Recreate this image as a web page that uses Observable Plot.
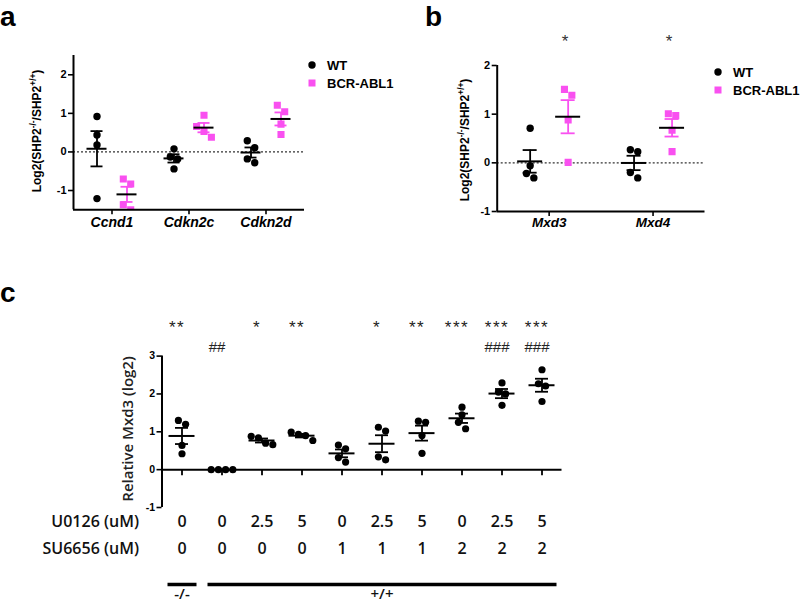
<!DOCTYPE html>
<html>
<head>
<meta charset="utf-8">
<script src="https://cdn.jsdelivr.net/npm/d3@7"></script>
<script src="https://cdn.jsdelivr.net/npm/@observablehq/plot@0.6"></script>
<style>
  html, body { margin: 0; padding: 0; background: #fff; }
  #root { position: relative; width: 800px; height: 605px; overflow: hidden; background: #fff; font-family: 'Liberation Sans', Arial, sans-serif; }
  .plabel { position: absolute; font-weight: bold; font-size: 28px; line-height: 28px; color: #000; }
  .ylab { position: absolute; transform: translate(-50%, -50%) rotate(-90deg); white-space: nowrap; font-weight: bold; font-size: 12px; color: #000; line-height: 14px; }
  .ylab sup { font-size: 0.7em; line-height: 0; }
  .ylabc { position: absolute; transform: translate(-50%, -50%) rotate(-90deg); white-space: nowrap; font-family: 'Open Sans', sans-serif; font-weight: 600; font-size: 15px; color: #222; line-height: 18px; }
</style>
</head>
<body>
<div id="root"></div>
<script>
// ---------------- data ----------------
const PINK = "#f950f0";
const FONT = "'Liberation Sans', Arial, Helvetica, sans-serif";
const FONT_C = "'Open Sans', 'Noto Sans', sans-serif";

const legendLabels = ["WT", "BCR-ABL1"];

// panel a
const genesA = ["Ccnd1", "Cdkn2c", "Cdkn2d"];
const wtA  = [[0.92, 0.44, 0.18, -1.21], [0.08, -0.13, -0.18, -0.44], [0.29, 0.11, -0.18, -0.28]];
const bcrA = [[-0.70, -0.83, -1.37, -1.50], [0.95, 0.66, 0.53, 0.38], [1.21, 1.04, 0.72, 0.45]];
const ticksA = [-1, 0, 1, 2];
const domainA = [-1.5, 2.5];

// panel b
const genesB = ["Mxd3", "Mxd4"];
const wtB  = [[0.71, -0.06, -0.22, -0.31], [0.27, 0.23, -0.20, -0.31]];
const bcrB = [[1.51, 1.39, 0.88, 0.01], [1.01, 0.97, 0.67, 0.23]];
const sigB = ["*", "*"];
const ticksB = [-1, 0, 1, 2];
const domainB = [-1, 2];

// panel c
const mxd3 = [
  [1.30, 1.20, 0.64, 0.42],
  [0.00, 0.00, 0.00, 0.00],
  [0.88, 0.84, 0.70, 0.66],
  [0.99, 0.93, 0.90, 0.77],
  [0.65, 0.55, 0.32, 0.20],
  [1.12, 1.02, 0.34, 0.26],
  [1.28, 1.25, 0.90, 0.43],
  [1.65, 1.45, 1.25, 1.08],
  [2.29, 2.05, 2.00, 1.70],
  [2.64, 2.27, 2.21, 1.80]
];
const starsC = ["**", "", "*", "**", "", "*", "**", "***", "***", "***"];
const hashC  = ["", "##", "", "", "", "", "", "", "###", "###"];
const u0126  = ["0", "0", "2.5", "5", "0", "2.5", "5", "0", "2.5", "5"];
const su6656 = ["0", "0", "0", "0", "1", "1", "1", "2", "2", "2"];
const genotype = ["-/-", "+/+", "+/+", "+/+", "+/+", "+/+", "+/+", "+/+", "+/+", "+/+"];
const rowLabels = ["U0126 (uM)", "SU6656 (uM)"];
const ticksC = [-1, 0, 1, 2, 3];
const domainC = [-1, 3];

// ---------------- helpers ----------------
const root = document.getElementById("root");
function place(node, left, top) {
  node.style.position = "absolute";
  node.style.left = left + "px";
  node.style.top = top + "px";
  root.appendChild(node);
  return node;
}
// simple scatter-dot spreading: points closer than a dot diameter are spread side by side
function swarm(vals, pxPerUnit, r) {
  const order = vals.map((_, i) => i).sort((a, b) => vals[b] - vals[a]);
  const offs = vals.map(() => 0);
  let cl = [order[0]];
  const flush = () => cl.forEach((i, k) => offs[i] = (k - (cl.length - 1) / 2) * 2 * r);
  for (let k = 1; k < order.length; k++) {
    if ((vals[order[k - 1]] - vals[order[k]]) * pxPerUnit < 2 * r) cl.push(order[k]);
    else { flush(); cl = [order[k]]; }
  }
  flush();
  return offs;
}
function stats(vals) {
  const m = d3.mean(vals), se = d3.deviation(vals) / Math.sqrt(vals.length);
  return {mean: m, lo: m - se, hi: m + se};
}

// ---------------- panels a & b ----------------
function groupedPanel(o) {
  const xD = [-0.5, o.genes.length - 0.5];
  const pxX = (o.width - o.marginLeft - o.marginRight) / (xD[1] - xD[0]);
  const pxY = (o.height - o.marginTop - o.marginBottom) / (o.yDomain[1] - o.yDomain[0]);
  const sets = [
    {data: o.wt, side: -1, color: "#000", symbol: "circle", r: 3.7},
    {data: o.bcr, side: 1, color: PINK, symbol: "square", r: 4.0}
  ];
  const marks = [
    Plot.ruleY([0], {x1: xD[0], x2: xD[1], stroke: "#333", strokeWidth: 1.3, strokeDasharray: "2,2"})
  ];
  for (const s of sets) {
    const pts = [], sum = [];
    s.data.forEach((vals, gi) => {
      const cx = gi + s.side * o.groupPx / pxX;
      const offs = swarm(vals, pxY, 3.7);
      vals.forEach((v, k) => pts.push({x: cx + offs[k] / pxX, y: v}));
      sum.push({x: cx, ...stats(vals)});
    });
    s.sum = sum;
    marks.push(Plot.dot(pts, {x: "x", y: "y", r: s.r, symbol: s.symbol, fill: s.color, stroke: "none", clip: true}));
  }
  for (const s of sets) {
    marks.push(Plot.ruleX(s.sum, {x: "x", y1: "lo", y2: "hi", stroke: s.color, strokeWidth: 1.8}));
    for (const k of ["lo", "hi"]) {
      marks.push(Plot.ruleY(s.sum, {y: k, x1: d => d.x - o.capPx / pxX, x2: d => d.x + o.capPx / pxX, stroke: s.color, strokeWidth: 1.8}));
    }
    marks.push(Plot.ruleY(s.sum, {y: "mean", x1: d => d.x - o.meanPx / pxX, x2: d => d.x + o.meanPx / pxX, stroke: "#000", strokeWidth: 2}));
  }
  // axes
  marks.push(
    Plot.ruleX([xD[0]], {y1: o.yDomain[0], y2: o.yDomain[1], stroke: "#000", strokeWidth: 2}),
    Plot.ruleY([o.yDomain[0]], {x1: xD[0], x2: xD[1], stroke: "#000", strokeWidth: 2}),
    Plot.ruleY(o.yTicks, {y: d => d, x1: xD[0], x2: xD[0], insetLeft: -5, stroke: "#000", strokeWidth: 1.6}),
    Plot.text(o.yTicks, {x: xD[0], y: d => d, text: d => String(d), dx: -7, textAnchor: "end", fontWeight: "bold", fontSize: 11}),
    Plot.ruleX(o.genes, {x: (d, i) => i, y1: o.yDomain[0], y2: o.yDomain[0], insetBottom: -5, stroke: "#000", strokeWidth: 1.6}),
    Plot.text(o.genes, {x: (d, i) => i, y: o.yDomain[0], text: d => d, dy: o.labelDy, fontStyle: "italic", fontWeight: "bold", fontSize: o.labelSize})
  );
  if (o.sig) {
    marks.push(Plot.text(o.sig, {x: (d, i) => i + o.groupPx / pxX, y: o.yDomain[1], text: d => d, dx: -3, dy: o.sigDy, fontSize: 17, fill: "#333"}));
  }
  return Plot.plot({
    width: o.width, height: o.height,
    marginLeft: o.marginLeft, marginRight: o.marginRight, marginTop: o.marginTop, marginBottom: o.marginBottom,
    x: {domain: xD, axis: null},
    y: {domain: o.yDomain, axis: null},
    style: {fontFamily: FONT, fontSize: "11px", background: "transparent", color: "#000"},
    marks
  });
}

const o_leg = {gap: 18};
function legend(left, top) {
  const svg = d3.create("svg").attr("width", 100).attr("height", 40);
  legendLabels.forEach((lab, i) => {
    const cy = 6 + i * o_leg.gap;
    if (i === 0) svg.append("circle").attr("cx", 5).attr("cy", cy).attr("r", 3.7).attr("fill", "#000");
    else svg.append("rect").attr("x", 1.5).attr("y", cy - 3.5).attr("width", 7).attr("height", 7).attr("fill", PINK);
    svg.append("text").attr("x", 20).attr("y", cy).attr("dy", "0.35em")
      .attr("font-family", FONT).attr("font-weight", "bold").attr("font-size", 13).text(lab);
  });
  place(svg.node(), left, top);
}

// ---------------- panel c ----------------
function panelC() {
  const W = 800, H = 305, mL = 161.5, mR = 238.5, mT = 55.6, mB = 98;
  const xD = [0.5, mxd3.length + 0.5];
  const pxX = (W - mL - mR) / (xD[1] - xD[0]);
  const pxY = (H - mT - mB) / (domainC[1] - domainC[0]);
  const pts = [], sum = [];
  mxd3.forEach((vals, gi) => {
    const cx = gi + 1;
    const offs = swarm(vals, pxY, 3.6);
    vals.forEach((v, k) => pts.push({x: cx + offs[k] / pxX, y: v}));
    sum.push({x: cx, ...stats(vals)});
  });
  const idx = mxd3.map((_, i) => i + 1);
  const spans = d3.groups(genotype.map((g, i) => ({g, i: i + 1})), d => d.g)
    .map(([g, arr]) => ({g, x1: d3.min(arr, d => d.i) - 0.5, x2: d3.max(arr, d => d.i) + 0.5}));
  const tf = {fontFamily: FONT_C, fontWeight: 600, fontSize: 16, fill: "#111"};
  const y0 = domainC[0];
  const marks = [
    Plot.dot(pts, {x: "x", y: "y", r: 3.6, fill: "#000"}),
    Plot.ruleX(sum, {x: "x", y1: "lo", y2: "hi", stroke: "#000", strokeWidth: 1.8}),
    Plot.ruleY(sum, {y: "lo", x1: d => d.x - 6.5 / pxX, x2: d => d.x + 6.5 / pxX, stroke: "#000", strokeWidth: 1.8}),
    Plot.ruleY(sum, {y: "hi", x1: d => d.x - 6.5 / pxX, x2: d => d.x + 6.5 / pxX, stroke: "#000", strokeWidth: 1.8}),
    Plot.ruleY(sum, {y: "mean", x1: d => d.x - 13 / pxX, x2: d => d.x + 13 / pxX, stroke: "#000", strokeWidth: 2}),
    // axes
    Plot.ruleX([xD[0]], {y1: domainC[0], y2: domainC[1], stroke: "#000", strokeWidth: 2}),
    Plot.ruleY([0], {x1: xD[0], x2: xD[1], stroke: "#000", strokeWidth: 2}),
    Plot.ruleY(ticksC, {y: d => d, x1: xD[0], x2: xD[0], insetLeft: -5, stroke: "#000", strokeWidth: 1.6}),
    Plot.text(ticksC, {x: xD[0], y: d => d, text: d => String(d), dx: -7, textAnchor: "end", fontWeight: "bold", fontSize: 10.5}),
    Plot.ruleX(idx, {x: d => d, y1: 0, y2: 0, insetBottom: -6, stroke: "#000", strokeWidth: 1.8}),
    // significance
    Plot.text(starsC, {x: (d, i) => i + 1, y: domainC[1], text: d => d, filter: d => d, dx: -5, dy: -29, fontSize: 17, fill: "#222"}),
    Plot.text(hashC, {x: (d, i) => i + 1, y: domainC[1], text: d => d, filter: d => d, dx: -5, dy: -9, fontSize: 15, fill: "#222"}),
    // treatment table
    Plot.text([rowLabels[0]], {x: xD[0], y: y0, text: d => d, dx: -23, dy: 14, textAnchor: "end", ...tf}),
    Plot.text([rowLabels[1]], {x: xD[0], y: y0, text: d => d, dx: -23, dy: 41, textAnchor: "end", ...tf}),
    Plot.text(u0126, {x: (d, i) => i + 1, y: y0, text: d => d, dy: 14, ...tf}),
    Plot.text(su6656, {x: (d, i) => i + 1, y: y0, text: d => d, dy: 41, ...tf}),
    // genotype bars
    Plot.ruleY(spans, {y: y0, x1: "x1", x2: "x2", dy: 77, insetLeft: 6, insetRight: 5, stroke: "#000", strokeWidth: 3.5}),
    Plot.text(spans, {x: d => (d.x1 + d.x2) / 2, y: y0, text: "g", dy: 87, ...tf, fontSize: 15})
  ];
  return Plot.plot({
    width: W, height: H, marginLeft: mL, marginRight: mR, marginTop: mT, marginBottom: mB,
    x: {domain: xD, axis: null},
    y: {domain: domainC, axis: null},
    style: {fontFamily: FONT, fontSize: "11px", background: "transparent", color: "#000"},
    marks
  });
}

// ---------------- assemble ----------------
const svgA = groupedPanel({
  genes: genesA, wt: wtA, bcr: bcrA, yDomain: domainA, yTicks: ticksA,
  width: 400, height: 235, marginLeft: 73, marginRight: 96, marginTop: 55, marginBottom: 25.7,
  groupPx: 15, capPx: 6, meanPx: 10, labelDy: 13, labelSize: 14
});
place(svgA, 0, 0);

const svgB = groupedPanel({
  genes: genesB, wt: wtB, bcr: bcrB, sig: sigB, sigDy: -24, yDomain: domainB, yTicks: ticksB,
  width: 400, height: 235, marginLeft: 96.7, marginRight: 95.5, marginTop: 65, marginBottom: 24,
  groupPx: 19, capPx: 7, meanPx: 12.5, labelDy: 11, labelSize: 13.5
});
place(svgB, 400, 0);

const svgC = panelC();
place(svgC, 0, 300);
d3.select(svgC).selectAll("text").filter(function () { return /^\*+$/.test(this.textContent); })
  .attr("letter-spacing", "1.5px");

legend(307, 59);
legend(713, 66);

// panel letters
for (const [t, l, tp] of [["a", 0, 3], ["b", 425, 3], ["c", 0, 279]]) {
  const d = document.createElement("div");
  d.className = "plabel"; d.textContent = t;
  place(d, l, tp);
}
// y-axis titles
const ylabHTML = 'Log2(SHP2<sup>-/-</sup>/SHP2<sup>+/+</sup>)';
for (const [cx, cy] of [[37, 131], [465, 140]]) {
  const d = document.createElement("div");
  d.className = "ylab"; d.innerHTML = ylabHTML;
  place(d, cx, cy);
}
const yc = document.createElement("div");
yc.className = "ylabc"; yc.textContent = "Relative Mxd3 (log2)";
place(yc, 127, 429);
</script>
</body>
</html>
